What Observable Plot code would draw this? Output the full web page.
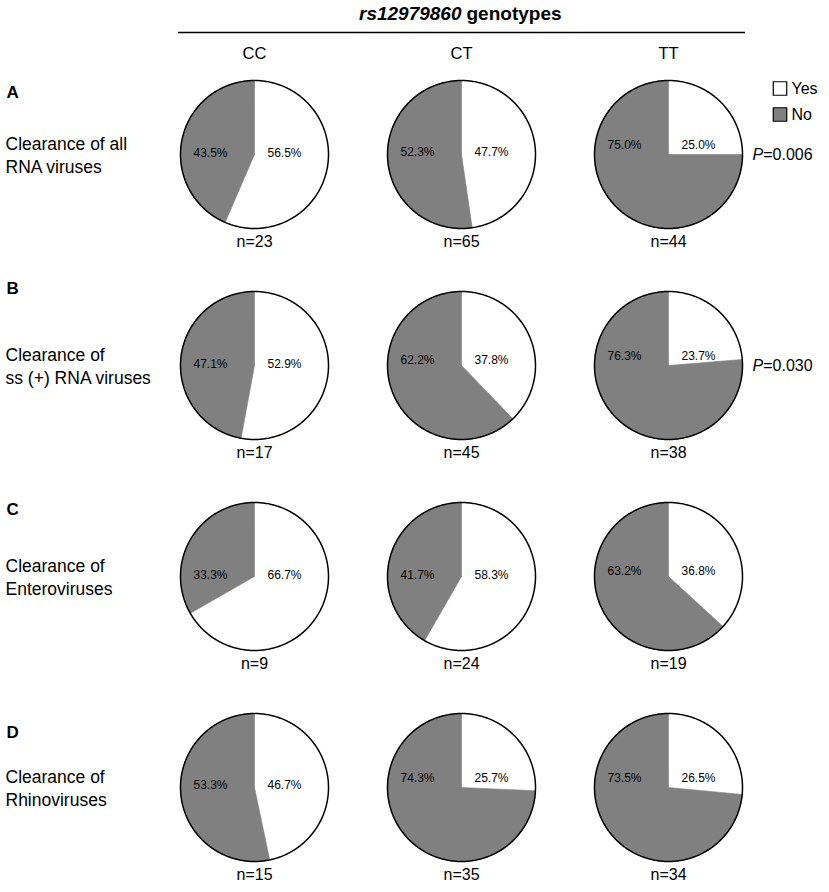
<!DOCTYPE html>
<html>
<head>
<meta charset="utf-8">
<script src="https://cdn.jsdelivr.net/npm/d3@7"></script>
<script src="https://cdn.jsdelivr.net/npm/@observablehq/plot@0.6"></script>
<style>
  html, body { margin: 0; padding: 0; background: #fff; }
  #chart svg { display: block; }
</style>
</head>
<body>
<div id="chart"></div>
<script>
// ---- data ----
const genotypes = ["CC", "CT", "TT"];
const panels = ["A", "B", "C", "D"];
const rowTitles = [
  "Clearance of all\nRNA viruses",
  "Clearance of\nss (+) RNA viruses",
  "Clearance of\nEnteroviruses",
  "Clearance of\nRhinoviruses"
];
const yesPct = [
  [56.5, 47.7, 25.0],
  [52.9, 37.8, 23.7],
  [66.7, 58.3, 36.8],
  [46.7, 25.7, 26.5]
];
const noPct = [
  [43.5, 52.3, 75.0],
  [47.1, 62.2, 76.3],
  [33.3, 41.7, 63.2],
  [53.3, 74.3, 73.5]
];
const nCounts = [
  [23, 65, 44],
  [17, 45, 38],
  [9, 24, 19],
  [15, 35, 34]
];
const pValues = ["0.006", "0.030", null, null];
const legendLabels = ["Yes", "No"];

// ---- layout ----
const W = 829, H = 892;
const colRange = [254, 668];
const rowRange = [154, 787];
const R = 74;
const kx = (colRange[1] - colRange[0]) / (genotypes.length - 1);
const ky = (rowRange[1] - rowRange[0]) / (panels.length - 1);
const xs = d3.scaleLinear().domain([0, genotypes.length - 1]).range(colRange);
const ys = d3.scaleLinear().domain([0, panels.length - 1]).range(rowRange);
const ux = (px) => xs.invert(px);
const uy = (px) => ys.invert(px);
const letterDy = [-62, -77, -67, -55];
const GRAY = "#808080";
const FONT = "'Liberation Sans', Arial, Helvetica, sans-serif";

// ---- derived geometry (through the scales' units) ----
const pt = (c, r, deg, rad) => {
  const t = deg * Math.PI / 180;
  return { x: c + rad * Math.sin(t) / kx, y: r - rad * Math.cos(t) / ky };
};
function sector(c, r, a0, a1, id) {
  const pts = [{ x: c, y: r, id }];
  const steps = Math.max(2, Math.ceil((a1 - a0) / 1));
  for (let i = 0; i <= steps; i++) {
    const p = pt(c, r, a0 + (a1 - a0) * i / steps, R);
    pts.push({ ...p, id });
  }
  pts.push({ x: c, y: r, id });
  return pts;
}
const yesPts = [], noPts = [], ringPts = [], pctLabels = [], nLabels = [];
panels.forEach((pn, r) => {
  genotypes.forEach((g, c) => {
    const yDeg = yesPct[r][c] / 100 * 360;
    yesPts.push(...sector(c, r, 0, yDeg, `${pn}-${g}-yes`));
    noPts.push(...sector(c, r, yDeg, 360, `${pn}-${g}-no`));
    for (let a = 0; a <= 360; a += 1) ringPts.push({ ...pt(c, r, a, R), id: `${pn}-${g}` });
    const mid = yDeg / 2 * Math.PI / 180;
    const ly = -12 * Math.max(0, Math.cos(mid)) - 1;
    pctLabels.push({ x: c + 30 / kx, y: r + ly / ky, text: yesPct[r][c].toFixed(1) + "%" });
    pctLabels.push({ x: c - 44 / kx, y: r + ly / ky, text: noPct[r][c].toFixed(1) + "%" });
    nLabels.push({ x: c, y: r, text: `n=${nCounts[r][c]}` });
  });
});
const pRows = pValues.map((p, r) => ({ r, p })).filter(d => d.p !== null);

const plot = Plot.plot({
  width: W,
  height: H,
  margin: 0,
  x: { domain: xs.domain(), range: colRange, axis: null },
  y: { domain: ys.domain(), range: rowRange, axis: null },
  style: { fontFamily: FONT, background: "#fff", color: "#000", overflow: "visible" },
  marks: [
    // title
    Plot.text(["rs12979860"], { x: 1, frameAnchor: "top", dy: 13, lineAnchor: "middle", textAnchor: "end", fontStyle: "italic", fontWeight: "bold", fontSize: 19 }),
    Plot.text(["genotypes"], { x: 1, frameAnchor: "top", dy: 13, dx: 5, lineAnchor: "middle", textAnchor: "start", fontWeight: "bold", fontSize: 19 }),
    Plot.ruleY([uy(32)], { x1: ux(178), x2: ux(745), stroke: "#000", strokeWidth: 1.5 }),
    // column headers
    Plot.text(genotypes, { x: (d, i) => i, frameAnchor: "top", dy: 53, lineAnchor: "middle", text: d => d, fontSize: 16.5 }),
    // panel letters and row titles
    Plot.text(panels, { y: (d, i) => i + letterDy[i] / ky, frameAnchor: "left", dx: 6, lineAnchor: "middle", textAnchor: "start", text: d => d, fontWeight: "bold", fontSize: 17 }),
    Plot.text(rowTitles, { y: (d, i) => i, frameAnchor: "left", dx: 5, lineAnchor: "middle", textAnchor: "start", text: d => d, fontSize: 17.5, lineHeight: 1.3 }),
    // pies
    Plot.line(yesPts, { x: "x", y: "y", z: "id", fill: "#fff", stroke: "none", curve: "linear" }),
    Plot.line(noPts, { x: "x", y: "y", z: "id", fill: GRAY, stroke: GRAY, strokeWidth: 0.6, curve: "linear" }),
    Plot.line(ringPts, { x: "x", y: "y", z: "id", fill: "none", stroke: "#000", strokeWidth: 1.5, curve: "linear" }),
    // percentage labels
    Plot.text(pctLabels, { x: "x", y: "y", text: "text", fontSize: 12, lineAnchor: "middle" }),
    // n labels
    Plot.text(nLabels, { x: "x", y: "y", dy: 87, text: "text", fontSize: 16, lineAnchor: "middle" }),
    // P values
    Plot.text(pRows, { x: 2, y: d => d.r, dx: 84, text: () => "P", fontStyle: "italic", fontSize: 16, textAnchor: "start", lineAnchor: "middle" }),
    Plot.text(pRows, { x: 2, y: d => d.r, dx: 94.7, text: d => "=" + d.p, fontSize: 16, textAnchor: "start", lineAnchor: "middle" }),
    // legend
    Plot.dot(legendLabels, { x: ux(779.5), y: (d, i) => uy(88 + i * 26), symbol: "square", r: 7.6, fill: (d, i) => i === 0 ? "#fff" : GRAY, stroke: "#000", strokeWidth: 1.2 }),
    Plot.text(legendLabels, { x: ux(791), y: (d, i) => uy(88 + i * 26), text: d => d, fontSize: 16, textAnchor: "start", lineAnchor: "middle" })
  ]
});
document.getElementById("chart").appendChild(plot);
</script>
</body>
</html>
